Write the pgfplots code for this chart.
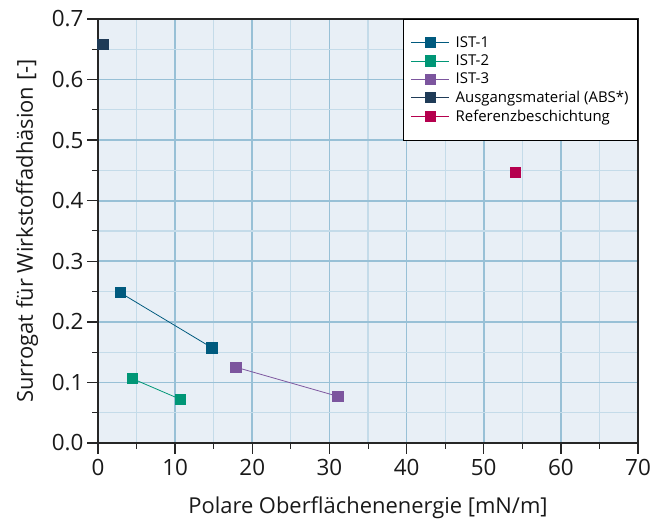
\documentclass[border=0pt]{standalone}
\usepackage{fontspec}
\setmainfont{Open Sans}
\usepackage{pgfplots}
\pgfplotsset{compat=1.18}
\definecolor{istone}{HTML}{005A7E}
\definecolor{isttwo}{HTML}{009676}
\definecolor{istthree}{HTML}{7C559E}
\definecolor{absmat}{HTML}{1F3B57}
\definecolor{refcoat}{HTML}{B5004E}
\definecolor{bgblue}{HTML}{E8EFF6}
\definecolor{gridmajor}{HTML}{98C0D6}
\definecolor{gridminor}{HTML}{C4DBE9}
\pgfplotsset{
  pt/.style={mark=square*,mark size=5.2bp,line width=0.8pt,draw=#1,
    mark options={solid,fill=#1,draw=#1,line width=0pt}},
}
\begin{document}
\begin{tikzpicture}
\begin{axis}[
  scale only axis,
  width=540bp,
  height=424bp,
  xmin=0, xmax=70,
  ymin=0, ymax=0.7,
  xtick={0,10,...,70},
  ytick={0,0.1,0.2,0.3,0.4,0.5,0.6,0.7},
  minor x tick num=1,
  minor y tick num=1,
  grid=both,
  major grid style={draw=gridmajor,line width=1.6bp},
  minor grid style={draw=gridminor,line width=1.1bp},
  axis background/.style={fill=bgblue},
  axis line style={draw=black!85,line width=1.3bp},
  tick align=outside,
  xtick pos=bottom,
  ytick pos=left,
  major tick length=11bp,
  minor tick length=6bp,
  every tick/.style={draw=black!85,line width=1.3bp},
  every minor tick/.append style={line width=1bp},
  tick label style={font=\fontsize{22.5}{26}\selectfont,text=black!90},
  xticklabel style={yshift=-2bp},
  /pgf/number format/assume math mode=true,
  yticklabel style={/pgf/number format/.cd,fixed,fixed zerofill,precision=1},
  label style={font=\fontsize{22}{26}\selectfont,text=black!90},
  xlabel style={yshift=-14bp},
  ylabel style={yshift=7bp},
  xlabel={Polare Oberflächenenergie [mN/m]},
  ylabel={Surrogat für Wirkstoffadhäsion [-]},
  legend style={at={(1,1)},anchor=north east,draw=black,line width=0.9bp,fill=white,
    font=\fontsize{15}{17}\selectfont,inner xsep=7bp,inner ysep=15bp,row sep=2bp,
    /tikz/every odd column/.append style={column sep=4bp}},
  legend cell align=left,
  legend image code/.code={
    \draw[mark repeat=2,mark phase=2,#1] plot coordinates {(0bp,0bp) (19bp,0bp) (38bp,0bp)};
  },
]
\addplot[pt=istone] coordinates {(2.9,0.248) (14.8,0.157)};
\addplot[pt=isttwo] coordinates {(4.5,0.106) (10.7,0.072)};
\addplot[pt=istthree] coordinates {(17.9,0.125) (31.1,0.077)};
\addplot[pt=absmat] coordinates {(0.66,0.658)};
\addplot[pt=refcoat] coordinates {(54.1,0.447)};
\legend{IST-1,IST-2,IST-3,Ausgangsmaterial (ABS*),Referenzbeschichtung}
\end{axis}
\pgfresetboundingbox
\path[use as bounding box] ([xshift=-98bp,yshift=-79bp]current axis.south west)
  rectangle ([xshift=28bp,yshift=19bp]current axis.north east);
\end{tikzpicture}
\end{document}
